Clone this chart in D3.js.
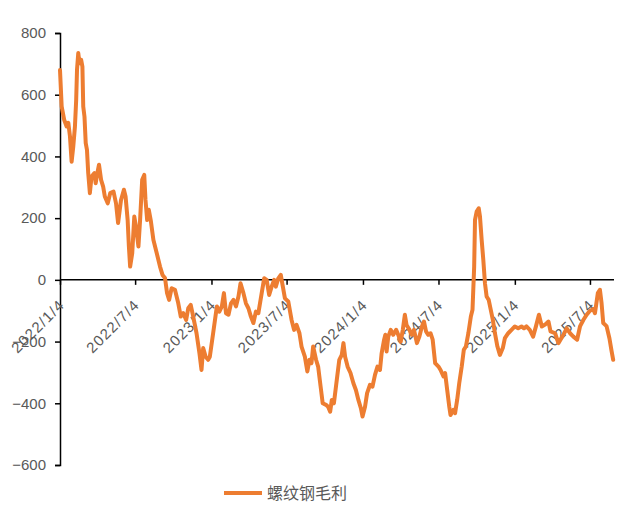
<!DOCTYPE html>
<html><head><meta charset="utf-8">
<script src="https://cdn.jsdelivr.net/npm/d3@7"></script>
<style>
html,body{margin:0;padding:0;background:#fff;}
svg{display:block;}
text{font-family:"Liberation Sans","Noto Sans",Arial,sans-serif;}
</style></head>
<body>
<svg id="chart" width="640" height="519"></svg>
<script>
const seriesName = "螺纹钢毛利";
const dates = [
"2022-01-04","2022-01-08","2022-01-14","2022-01-20","2022-01-24","2022-01-28","2022-02-01","2022-02-05","2022-02-09","2022-02-12",
"2022-02-14","2022-02-17","2022-02-20","2022-02-24","2022-02-27","2022-03-01","2022-03-04","2022-03-07","2022-03-10","2022-03-13",
"2022-03-17","2022-03-21","2022-03-28","2022-03-31","2022-04-04","2022-04-08","2022-04-13","2022-04-18","2022-04-22","2022-04-29",
"2022-05-05","2022-05-13","2022-05-19","2022-05-24","2022-05-31","2022-06-07","2022-06-11","2022-06-16","2022-06-19","2022-06-22",
"2022-06-27","2022-07-02","2022-07-06","2022-07-12","2022-07-16","2022-07-21","2022-07-26","2022-07-29","2022-08-02","2022-08-06",
"2022-08-11","2022-08-17","2022-08-25","2022-09-02","2022-09-08","2022-09-14","2022-09-19","2022-09-24","2022-09-30","2022-10-08",
"2022-10-16","2022-10-22","2022-10-28","2022-11-04","2022-11-09","2022-11-15","2022-11-21","2022-11-29","2022-12-06","2022-12-11",
"2022-12-15","2022-12-21","2022-12-27","2022-12-31","2023-01-08","2023-01-17","2023-01-23","2023-01-29","2023-02-03","2023-02-08",
"2023-02-14","2023-02-20","2023-02-26","2023-03-04","2023-03-10","2023-03-15","2023-03-22","2023-03-28","2023-04-03","2023-04-09",
"2023-04-15","2023-04-21","2023-04-27","2023-05-05","2023-05-11","2023-05-17","2023-05-23","2023-05-29","2023-06-04","2023-06-08",
"2023-06-14","2023-06-20","2023-06-25","2023-06-30","2023-07-08","2023-07-16","2023-07-22","2023-07-28","2023-08-04","2023-08-09",
"2023-08-17","2023-08-23","2023-08-28","2023-09-02","2023-09-06","2023-09-13","2023-09-18","2023-09-24","2023-09-29","2023-10-07",
"2023-10-12","2023-10-17","2023-10-21","2023-10-26","2023-11-02","2023-11-08","2023-11-14","2023-11-18","2023-11-22","2023-11-28",
"2023-12-05","2023-12-12","2023-12-18","2023-12-24","2023-12-30","2024-01-03","2024-01-09","2024-01-14","2024-01-21","2024-01-27",
"2024-02-02","2024-02-08","2024-02-14","2024-02-18","2024-02-24","2024-02-27","2024-03-01","2024-03-05","2024-03-11","2024-03-17",
"2024-03-24","2024-03-29","2024-04-04","2024-04-09","2024-04-14","2024-04-18","2024-04-25","2024-04-30","2024-05-06","2024-05-13",
"2024-05-19","2024-05-25","2024-05-30","2024-06-04","2024-06-09","2024-06-15","2024-06-20","2024-06-26","2024-07-04","2024-07-09",
"2024-07-16","2024-07-20","2024-07-25","2024-07-30","2024-08-02","2024-08-09","2024-08-13","2024-08-18","2024-08-23","2024-08-29",
"2024-09-03","2024-09-08","2024-09-14","2024-09-20","2024-09-24","2024-09-28","2024-09-30","2024-10-04","2024-10-09","2024-10-12",
"2024-10-16","2024-10-20","2024-10-24","2024-10-28","2024-11-02","2024-11-07","2024-11-12","2024-11-17","2024-11-23","2024-11-29",
"2024-12-06","2024-12-11","2024-12-19","2024-12-27","2025-01-04","2025-01-12","2025-01-20","2025-01-26","2025-02-01","2025-02-09",
"2025-02-17","2025-02-24","2025-03-03","2025-03-10","2025-03-18","2025-03-26","2025-03-31","2025-04-11","2025-04-19","2025-05-01",
"2025-05-09","2025-05-17","2025-05-25","2025-06-03","2025-06-10","2025-06-18","2025-06-26","2025-07-04","2025-07-12","2025-07-16",
"2025-07-23","2025-07-28","2025-08-01","2025-08-05","2025-08-13","2025-08-20","2025-08-25","2025-08-29"
];
const values = [
680,562,519,497,509,465,383,432,497,583,
681,735,702,713,691,562,529,443,421,346,
281,335,346,313,346,373,324,302,270,248,
281,286,248,184,259,292,270,194,108,43,
86,205,173,108,194,324,340,259,194,227,
190,130,87,43,16,6,-43,-65,-27,-32,
-76,-119,-108,-130,-92,-81,-119,-173,-238,-292,
-221,-249,-259,-249,-173,-86,-103,-86,-43,-108,
-113,-76,-65,-86,-54,-11,-43,-76,-92,-119,
-140,-103,-108,-43,5,0,-49,-22,0,-22,
5,16,-22,-60,-70,-130,-162,-146,-173,-216,
-249,-297,-259,-270,-216,-259,-281,-346,-400,-405,
-411,-427,-389,-400,-324,-259,-243,-205,-249,-281,
-302,-335,-357,-389,-416,-443,-411,-367,-340,-346,
-308,-281,-292,-238,-194,-178,-232,-184,-162,-178,
-162,-178,-200,-162,-113,-146,-162,-178,-162,-205,
-184,-151,-135,-167,-178,-173,-194,-270,-281,-292,
-313,-302,-357,-411,-438,-421,-432,-389,-335,-281,
-227,-216,-173,-119,-97,43,194,221,232,205,
130,65,-11,-54,-65,-97,-130,-173,-216,-243,
-221,-189,-173,-162,-151,-157,-151,-157,-151,-162,
-184,-150,-113,-151,-145,-135,-167,-173,-205,-178,
-157,-173,-184,-194,-151,-130,-113,-100,-95,-108,
-43,-32,-76,-140,-150,-190,-230,-259
];
const yTicks = [800,600,400,200,0,-200,-400,-600];
const xTickLabels = ["2022/1/4","2022/7/4","2023/1/4","2023/7/4","2024/1/4","2024/7/4","2025/1/4","2025/7/4"];

const parse = d3.timeParse("%Y-%m-%d");
const parseTick = d3.timeParse("%Y/%m/%d");
const data = dates.map((d,i)=>({date:parse(d), value:values[i]}));

const svg = d3.select("#chart");
const x = d3.scaleTime().domain([parse("2022-01-04"), parse("2025-08-29")]).range([60, 613.2]);
const y = d3.scaleLinear().domain([-600, 800]).range([465, 33]);

// Y axis
const yAxis = d3.axisLeft(y).tickValues(yTicks).tickSize(5).tickPadding(9).tickFormat(d3.format("d"));
const gy = svg.append("g").attr("transform","translate(60,0)").call(yAxis);
gy.select(".domain").attr("stroke","#000").attr("stroke-width",1.5);
gy.selectAll(".tick line").attr("stroke","#000").attr("stroke-width",1.5);
gy.selectAll(".tick text").attr("fill","#595959").style("font-size","15px")
  .style("font-family",'"Liberation Sans","Noto Sans",sans-serif');

// X axis at y=0
const tickDates = xTickLabels.map(parseTick);
const xAxis = d3.axisBottom(x).tickValues(tickDates).tickSize(5).tickSizeOuter(0)
  .tickFormat((d,i)=>xTickLabels[i]);
const gx = svg.append("g").attr("transform",`translate(0,${y(0)})`).call(xAxis);
gx.select(".domain").attr("stroke","#000").attr("stroke-width",1.5).attr("d",`M60,0H614`);
gx.selectAll(".tick line").attr("stroke","#000").attr("stroke-width",1.5);
gx.selectAll(".tick text").attr("fill","#595959").style("font-size","15px")
  .style("letter-spacing","1.2px")
  .style("font-family",'"Liberation Sans","Noto Sans",sans-serif')
  .attr("text-anchor","end").attr("dy",null).attr("y",null)
  .attr("transform","translate(5,26) rotate(-45)");

// Line
const line = d3.line().x(d=>x(d.date)).y(d=>y(d.value)).curve(d3.curveLinear);
svg.append("path").datum(data).attr("d",line).attr("fill","none")
  .attr("stroke","#ED7D31").attr("stroke-width",4).attr("stroke-linejoin","round").attr("stroke-linecap","round");

// Legend
const lg = svg.append("g").attr("transform","translate(224,493)");
lg.append("line").attr("x1",0).attr("x2",38).attr("y1",0).attr("y2",0)
  .attr("stroke","#ED7D31").attr("stroke-width",4);
lg.append("text").attr("x",43).attr("y",6).text(seriesName).attr("fill","#595959")
  .style("font-size","16px").style("font-family",'"Noto Sans CJK SC",sans-serif');
</script>
</body></html>
